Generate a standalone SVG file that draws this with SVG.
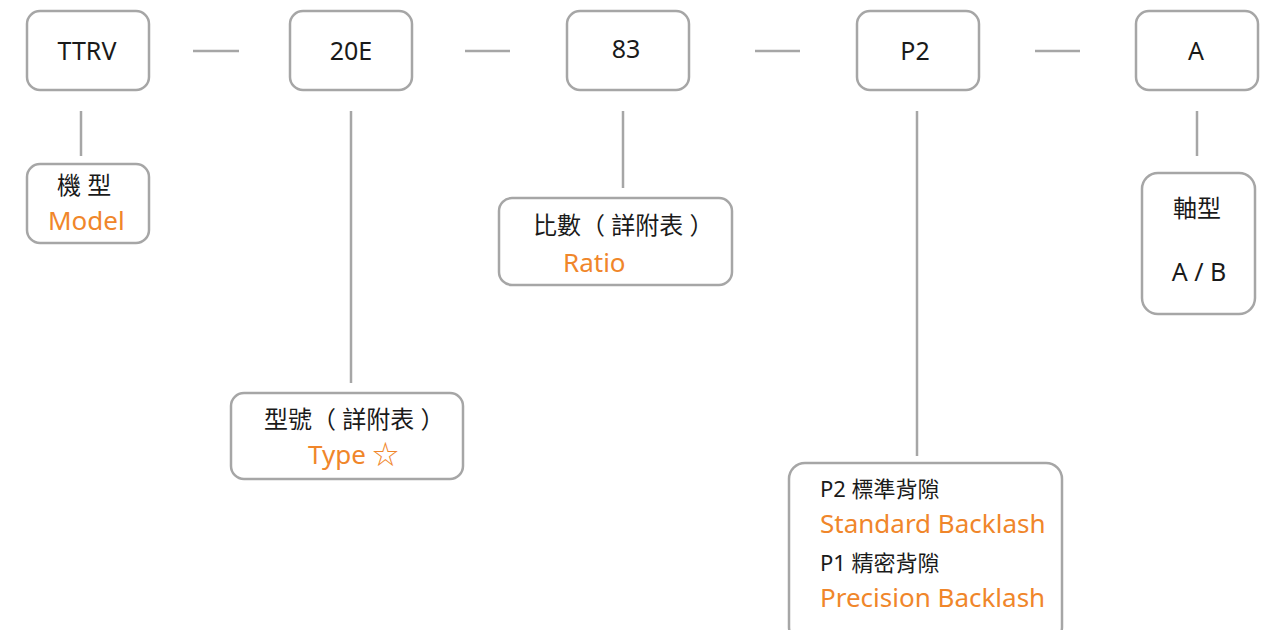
<svg xmlns="http://www.w3.org/2000/svg" width="1268" height="630" viewBox="0 0 1268 630">
<style>
.box{fill:#fff;stroke:#a6a6a6;stroke-width:2.5}
.ln{stroke:#a6a6a6;stroke-width:2.5;fill:none}
text{font-family:"Noto Sans","Noto Sans CJK TC",sans-serif;fill:#1a1a1a}
.t{font-size:25px;text-anchor:middle}
.c{font-size:22px}
.c4{font-size:24px}
.o{fill:#f0862a;font-size:26px}
</style>
<rect width="1268" height="630" fill="#fff"/>
<g id="connectors">
<line class="ln" x1="193" y1="51" x2="239" y2="51"/>
<line class="ln" x1="465" y1="51" x2="510" y2="51"/>
<line class="ln" x1="755" y1="51" x2="800" y2="51"/>
<line class="ln" x1="1035" y1="51" x2="1080" y2="51"/>
<line class="ln" x1="81" y1="111" x2="81" y2="156"/>
<line class="ln" x1="351" y1="111" x2="351" y2="383"/>
<line class="ln" x1="623" y1="111" x2="623" y2="188"/>
<line class="ln" x1="917" y1="111" x2="917" y2="456"/>
<line class="ln" x1="1197" y1="111" x2="1197" y2="156"/>
</g>
<g id="n-ttrv"><rect class="box" x="27" y="11" width="122" height="79" rx="13"/><text class="t" x="87" y="60">TTRV</text></g>
<g id="n-20e"><rect class="box" x="290" y="11" width="122" height="79" rx="13"/><text class="t" x="351" y="60">20E</text></g>
<g id="n-83"><rect class="box" x="567" y="11" width="122" height="79" rx="13"/><text class="t" x="626" y="58">83</text></g>
<g id="n-p2"><rect class="box" x="857" y="11" width="122" height="79" rx="13"/><text class="t" x="915" y="60">P2</text></g>
<g id="n-a"><rect class="box" x="1136" y="11" width="122" height="79" rx="13"/><text class="t" x="1196" y="60">A</text></g>
<g id="n-model"><rect class="box" x="27" y="164" width="122" height="79" rx="13"/><text class="c4" x="57" y="194">機 型</text><text class="o" x="48" y="230">Model</text></g>
<g id="n-type"><rect class="box" x="231" y="393" width="232" height="86" rx="13"/><text class="c4" x="264" y="428">型號（ 詳附表 ）</text><text class="o" x="308" y="464">Type ☆</text></g>
<g id="n-ratio"><rect class="box" x="499" y="198" width="233" height="87" rx="13"/><text class="c4" x="533" y="234">比數（ 詳附表 ）</text><text class="o" x="563" y="272">Ratio</text></g>
<g id="n-backlash"><rect class="box" x="789" y="463" width="273" height="180" rx="16"/>
<text class="c" x="820" y="497">P2 標準背隙</text>
<text class="o" x="820" y="533">Standard Backlash</text>
<text class="c" x="820" y="571">P1 精密背隙</text>
<text class="o" x="820" y="607">Precision Backlash</text></g>
<g id="n-shaft"><rect class="box" x="1142" y="173" width="113" height="141" rx="16"/><text class="c4" x="1197" y="217" text-anchor="middle">軸型</text><text class="t" x="1199" y="281">A / B</text></g>
</svg>
